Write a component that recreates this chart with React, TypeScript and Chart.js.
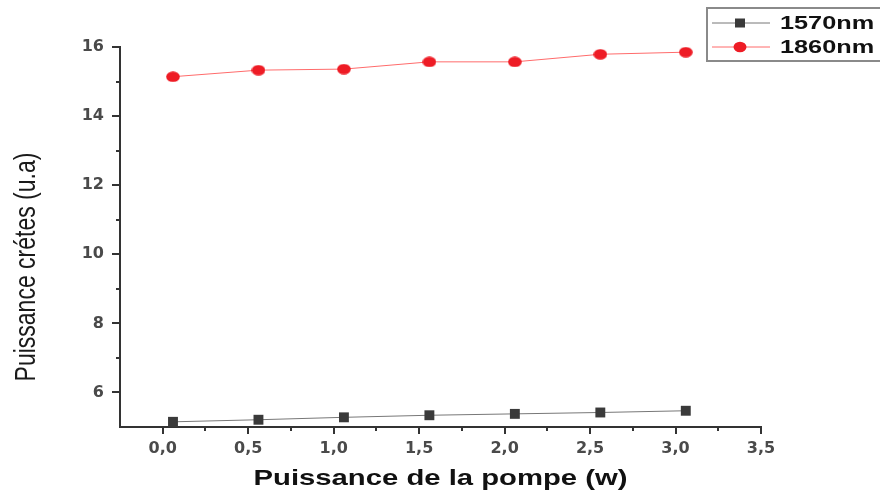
import React, { useEffect, useRef } from "react";
import { Chart, registerables } from "chart.js";

Chart.register(...registerables);

const xValues = [0.06, 0.56, 1.06, 1.56, 2.06, 2.56, 3.06];
const series1570 = [5.15, 5.21, 5.28, 5.34, 5.38, 5.42, 5.47];
const series1860 = [15.14, 15.33, 15.36, 15.57, 15.57, 15.79, 15.85];
const xTickValues = [0, 0.5, 1, 1.5, 2, 2.5, 3, 3.5];
const yTickValues = [6, 8, 10, 12, 14, 16];
const xMinorValues = [0.25, 0.75, 1.25, 1.75, 2.25, 2.75, 3.25];
const yMinorValues = [7, 9, 11, 13, 15];
const seriesLabels = ["1570nm", "1860nm"];
const xTitle = "Puissance de la pompe (w)";
const yTitle = "Puissance crétes (u.a)";

const AXIS_COLOR = "#333333";
const RED_POINT = "#ee1c25";
const RED_LINE = "#ff6b6b";
const GRAY_POINT = "#3a3a3a";
const GRAY_LINE = "#777777";

function makeEllipse(color: string) {
  const c = document.createElement("canvas");
  c.width = 14;
  c.height = 11;
  const g = c.getContext("2d")!;
  g.fillStyle = color;
  g.beginPath();
  g.ellipse(7, 5.5, 6.8, 5.3, 0, 0, Math.PI * 2);
  g.fill();
  return c;
}

const decorPlugin = {
  id: "decor",
  afterDraw(chart: any) {
    const ctx = chart.ctx;
    const xs = chart.scales.x;
    const ys = chart.scales.y;
    const area = chart.chartArea;
    ctx.save();
    ctx.strokeStyle = AXIS_COLOR;
    ctx.lineWidth = 2;
    const drawY = (v: number, len: number) => {
      const py = Math.round(ys.getPixelForValue(v));
      ctx.beginPath();
      ctx.moveTo(area.left, py);
      ctx.lineTo(area.left - len, py);
      ctx.stroke();
    };
    yTickValues.forEach((v) => drawY(v, 8));
    yMinorValues.forEach((v) => drawY(v, 4));
    const drawX = (v: number, len: number) => {
      const px = Math.round(xs.getPixelForValue(v));
      ctx.beginPath();
      ctx.moveTo(px, area.bottom);
      ctx.lineTo(px, area.bottom + len);
      ctx.stroke();
    };
    xTickValues.forEach((v) => drawX(v, 7));
    xMinorValues.forEach((v) => drawX(v, 4));

    ctx.fillStyle = "#111111";
    ctx.textAlign = "center";
    ctx.textBaseline = "middle";
    ctx.save();
    ctx.translate((area.left + area.right) / 2, 479);
    ctx.scale(1.33, 1);
    ctx.font = "bold 22px 'Liberation Sans', Arial, sans-serif";
    ctx.fillText(xTitle, 0, 0);
    ctx.restore();

    ctx.save();
    ctx.translate(27, 267);
    ctx.scale(1.25, 1);
    ctx.rotate(-Math.PI / 2);
    ctx.font = "23px 'Liberation Sans', Arial, sans-serif";
    ctx.fillStyle = "#1a1a1a";
    ctx.fillText(yTitle, 0, 0);
    ctx.restore();

    // legend
    ctx.strokeStyle = "#8a8a8a";
    ctx.lineWidth = 2;
    ctx.strokeRect(707, 8, 200, 53);
    const rows = [
      { y: 23, line: GRAY_LINE, point: GRAY_POINT, square: true },
      { y: 47, line: RED_LINE, point: RED_POINT, square: false },
    ];
    rows.forEach((r, i) => {
      ctx.strokeStyle = r.line;
      ctx.lineWidth = 1;
      ctx.beginPath();
      ctx.moveTo(712, r.y);
      ctx.lineTo(770, r.y);
      ctx.stroke();
      ctx.fillStyle = r.point;
      if (r.square) {
        ctx.fillRect(735, r.y - 4.5, 10, 9);
      } else {
        ctx.beginPath();
        ctx.ellipse(740, r.y, 6.5, 5.2, 0, 0, Math.PI * 2);
        ctx.fill();
      }
      ctx.save();
      ctx.translate(780, r.y);
      ctx.scale(1.33, 1);
      ctx.font = "bold 19px 'Liberation Sans', Arial, sans-serif";
      ctx.fillStyle = "#111111";
      ctx.textAlign = "left";
      ctx.textBaseline = "middle";
      ctx.fillText(seriesLabels[i], 0, 1);
      ctx.restore();
    });
    ctx.restore();
  },
};

export default function App() {
  const ref = useRef<HTMLCanvasElement | null>(null);
  useEffect(() => {
    if (!ref.current) return;
    const redDot = makeEllipse(RED_POINT);
    const chart = new Chart(ref.current, {
      type: "line",
      data: {
        datasets: [
          {
            label: seriesLabels[0],
            data: xValues.map((x, i) => ({ x, y: series1570[i] })),
            borderColor: GRAY_LINE,
            borderWidth: 1,
            pointStyle: "rect",
            pointRadius: 7,
            pointBackgroundColor: GRAY_POINT,
            pointBorderWidth: 0,
            fill: false,
          },
          {
            label: seriesLabels[1],
            data: xValues.map((x, i) => ({ x, y: series1860[i] })),
            borderColor: RED_LINE,
            borderWidth: 1,
            pointStyle: redDot,
            pointRadius: 6,
            pointBackgroundColor: RED_POINT,
            pointBorderWidth: 0,
            fill: false,
          },
        ],
      },
      options: {
        animation: false,
        responsive: false,
        maintainAspectRatio: false,
        devicePixelRatio: 1,
        layout: { padding: { top: 47, right: 119, left: 0, bottom: 0 } },
        plugins: {
          legend: { display: false },
          tooltip: { enabled: false },
        },
        scales: {
          x: {
            type: "linear",
            min: -0.25,
            max: 3.5,
            grid: { display: false, drawTicks: false },
            border: { display: true, width: 2, color: AXIS_COLOR },
            afterBuildTicks: (s: any) => {
              s.ticks = xTickValues.map((v) => ({ value: v }));
            },
            afterFit: (s: any) => {
              s.height = 65;
            },
            ticks: {
              padding: 12,
              color: "#4a4a4a",
              font: { family: "'DejaVu Sans', sans-serif", size: 16, weight: "bold" },
              callback: (v: any) => Number(v).toFixed(1).replace(".", ","),
            },
          },
          y: {
            type: "linear",
            min: 5,
            max: 16,
            grid: { display: false, drawTicks: false },
            border: { display: true, width: 2, color: AXIS_COLOR },
            afterBuildTicks: (s: any) => {
              s.ticks = yTickValues.map((v) => ({ value: v }));
            },
            afterFit: (s: any) => {
              s.width = 120;
            },
            ticks: {
              padding: 16,
              color: "#4a4a4a",
              font: { family: "'DejaVu Sans', sans-serif", size: 16, weight: "bold" },
              callback: (v: any) => String(v),
            },
          },
        },
      },
      plugins: [decorPlugin],
    } as any);
    return () => chart.destroy();
  }, []);
  return (
    <div style={{ position: "absolute", left: 0, top: 0, width: 880, height: 492, background: "#ffffff" }}>
      <canvas ref={ref} width={880} height={492} />
    </div>
  );
}
